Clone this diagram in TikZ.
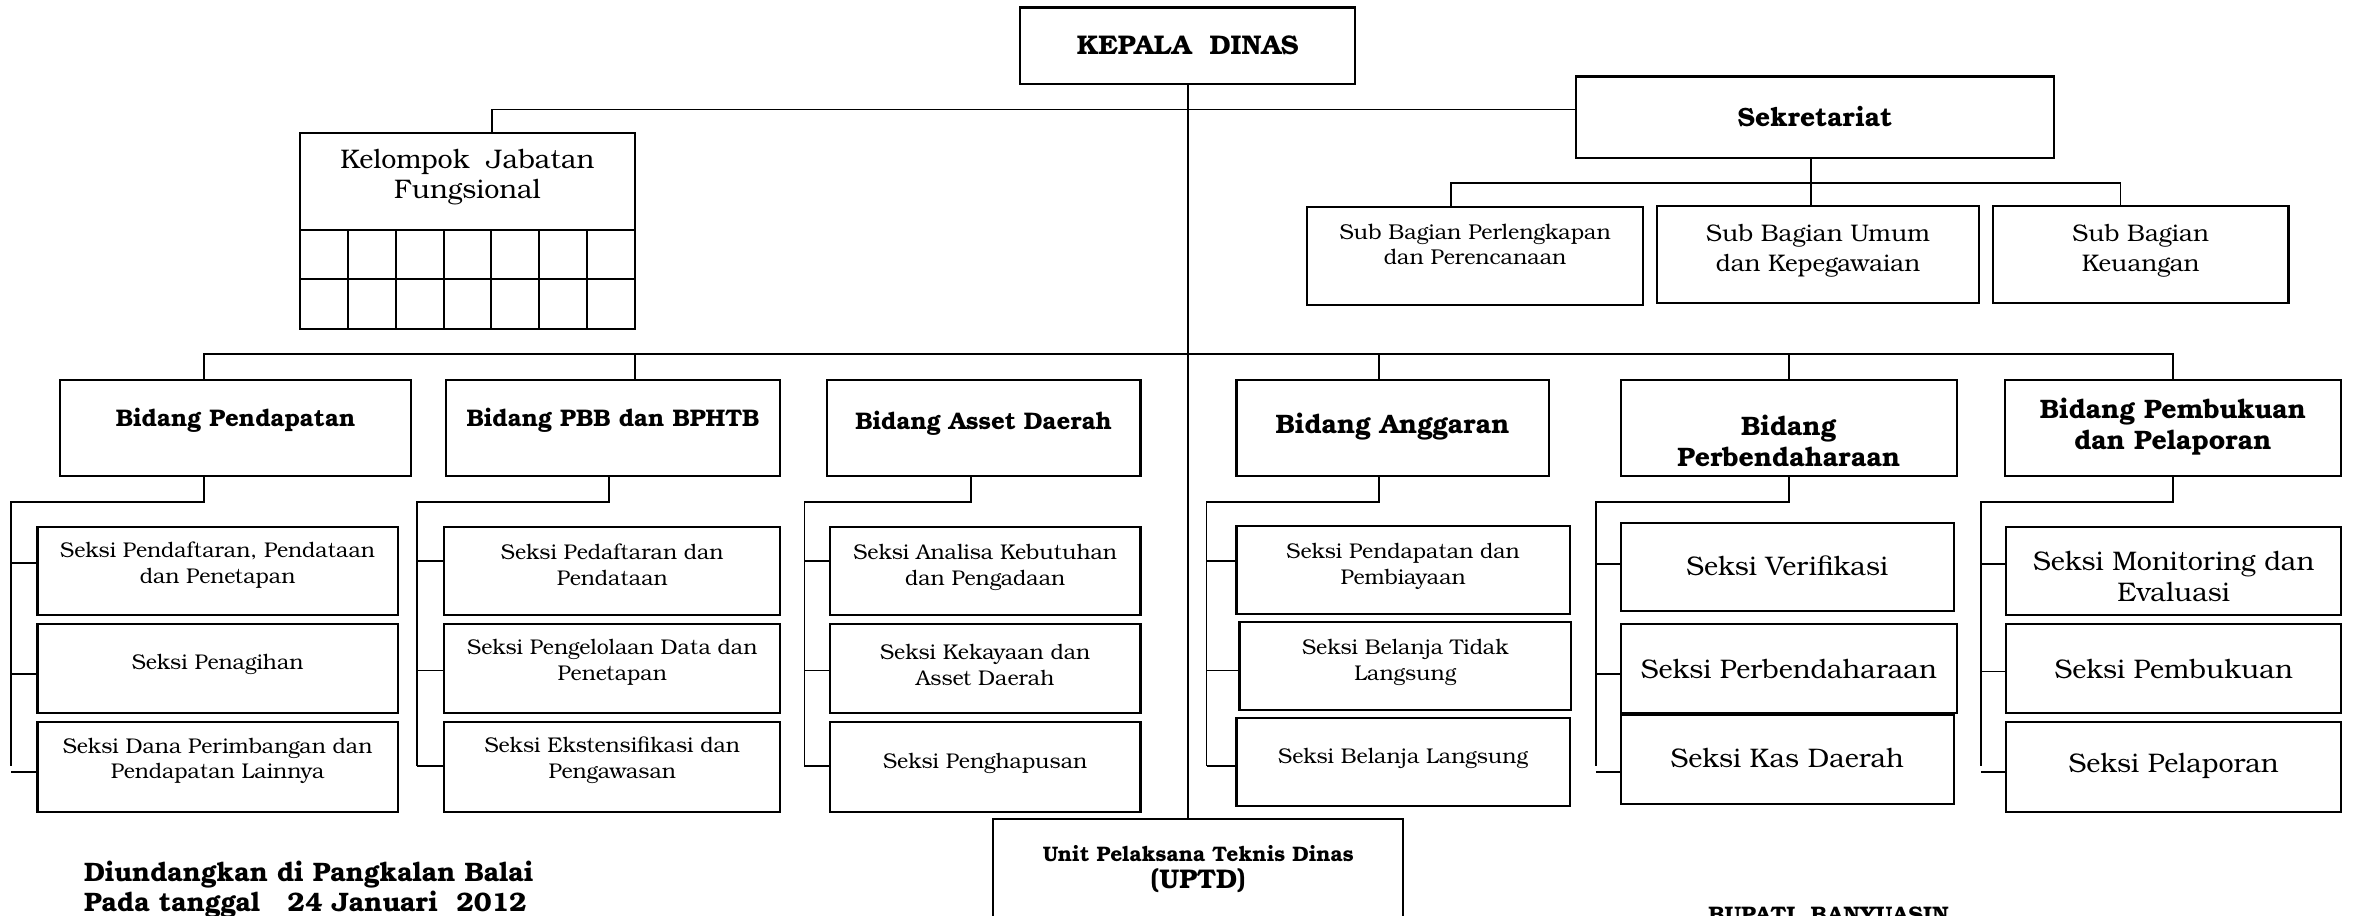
\documentclass[tikz,border=0pt]{standalone}
\usepackage{fontspec}
\setmainfont{texgyrebonum}[Extension=.otf, UprightFont=*-regular, BoldFont=*-bold, ItalicFont=*-italic, BoldItalicFont=*-bolditalic]
\newcommand{\fz}[2]{\fontsize{#1}{#2}\selectfont}
\tikzset{
  bx/.style={draw=black, line width=1.4pt, fill=none, inner sep=0pt, outer sep=0pt},
  tx/.style={inner sep=0pt, outer sep=0pt, align=center, text=black},
  ln/.style={draw=black, line width=1.1pt},
}
\newcommand{\BX}[5]{\node[bx, minimum width={(#4-#2)*1pt}, minimum height={(#5-#3)*1pt}] (#1) at ({(#2+#4)/2},{(#3+#5)/2}) {};}
\newcommand{\TX}[4]{\node[tx, font=#3] (#1) at (#2) {#4};}
\newcommand{\COLS}[9]{%
  \draw[ln] (#1.south -| #2,0) -- (#2,334.6) -- (#3,334.6) -- (#3,510.6);
  \draw[ln] (#3,#4) -- (#7.west |- 0,#4);
  \draw[ln] (#3,#5) -- (#8.west |- 0,#5);
  \draw[ln] (#3,#6) -- (#9.west |- 0,#6);
}
\newcommand{\fsm}{\fz{14.2}{17}}
\newcommand{\flg}{\fz{17.9}{20.5}}
\newcommand{\fbd}{\fz{16}{19}\bfseries}
\newcommand{\fbl}{\fz{17.8}{20.5}\bfseries}
\begin{document}
\begin{tikzpicture}[x=1pt,y=-1pt]
\useasboundingbox (0,0) rectangle (1568,610);
\fill[white] (0,0) rectangle (1568,610);

% top
\BX{kepala}{680}{5}{903}{56}
\TX{kepalat}{791.5,30}{\fz{18}{21}\bfseries}{KEPALA\ \ DINAS}

\BX{kjf}{200}{88.5}{423}{153}
\TX{kjft}{311.5,118}{\fz{17.9}{20}}{Kelompok\ \ Jabatan\\Fungsional}
\BX{grid}{200}{153}{423}{219}
\draw[bx] (grid.west) -- (grid.east);
\foreach \i in {1,...,6} \draw[bx] ({200+\i*223/7},153) -- ({200+\i*223/7},219);

\BX{sek}{1050}{51}{1369}{105}
\TX{sekt}{1209.5,78}{\fz{17.6}{20}\bfseries}{Sekretariat}

\BX{sbp}{871}{138}{1095}{203}
\TX{sbpt}{983,163}{\fz{14.3}{16.6}}{Sub Bagian Perlengkapan\\dan Perencanaan}
\BX{sbu}{1104}{137}{1319}{202}
\TX{sbut}{1211.5,167}{\fz{16}{19.7}}{Sub Bagian Umum\\dan Kepegawaian}
\BX{sbk}{1328}{137}{1525}{202}
\TX{sbkt}{1426.5,167}{\fz{16}{19.7}}{Sub Bagian\\Keuangan}

% bidang
\BX{bpend}{40}{253}{274}{317}
\TX{bpendt}{157,280}{\fbd}{Bidang Pendapatan}
\BX{bpbb}{297}{253}{520}{317}
\TX{bpbbt}{408.5,280}{\fbd}{Bidang PBB dan BPHTB}
\BX{basset}{551}{253}{760}{317}
\TX{bassett}{655.5,282}{\fbd}{Bidang Asset Daerah}
\BX{bang}{824}{253}{1032}{317}
\TX{bangt}{928,284}{\fbl}{Bidang Anggaran}
\BX{bperb}{1080}{253}{1304}{317}
\TX{bperbt}{1192,294}{\fbl}{Bidang\\Perbendaharaan}
\BX{bpemb}{1336}{253}{1560}{317}
\TX{bpembt}{1448,284.5}{\fbl}{Bidang Pembukuan\\dan Pelaporan}

% seksi col 1
\BX{s11}{25}{351}{265}{410}
\TX{s11t}{145,376.5}{\fsm}{Seksi Pendaftaran, Pendataan\\dan Penetapan}
\BX{s12}{25}{416}{265}{475}
\TX{s12t}{145,443}{\fsm}{Seksi Penagihan}
\BX{s13}{25}{481}{265}{541}
\TX{s13t}{145,507}{\fsm}{Seksi Dana Perimbangan dan\\Pendapatan Lainnya}
% col 2
\BX{s21}{296}{351}{520}{410}
\TX{s21t}{408,376.5}{\fsm}{Seksi Pedaftaran dan\\Pendataan}
\BX{s22}{296}{416}{520}{475}
\TX{s22t}{408,441.5}{\fsm}{Seksi Pengelolaan Data dan\\Penetapan}
\BX{s23}{296}{481}{520}{541}
\TX{s23t}{408,506.5}{\fsm}{Seksi Ekstensifikasi dan\\Pengawasan}
% col 3
\BX{s31}{553}{351}{760}{410}
\TX{s31t}{656.5,378}{\fsm}{Seksi Analisa Kebutuhan\\dan Pengadaan}
\BX{s32}{553}{416}{760}{475}
\TX{s32t}{656.5,443}{\fsm}{Seksi Kekayaan dan\\Asset Daerah}
\BX{s33}{553}{481}{760}{541}
\TX{s33t}{656.5,509}{\fsm}{Seksi Penghapusan}
% col 4
\BX{s41}{824}{350.5}{1046}{409}
\TX{s41t}{935,377.5}{\fsm}{Seksi Pendapatan dan\\Pembiayaan}
\BX{s42}{826}{414.5}{1047}{473}
\TX{s42t}{936.5,441.5}{\fsm}{Seksi Belanja Tidak\\Langsung}
\BX{s43}{824}{478.5}{1046}{537}
\TX{s43t}{935,505.5}{\fsm}{Seksi Belanja Langsung}
% col 5
\BX{s51}{1080}{348.5}{1302}{407}
\TX{s51t}{1191,377}{\flg}{Seksi Verifikasi}
\BX{s52}{1080}{416}{1304}{475}
\TX{s52t}{1192,446}{\flg}{Seksi Perbendaharaan}
\BX{s53}{1080}{476.7}{1302}{535.5}
\TX{s53t}{1191,505}{\flg}{Seksi Kas Daerah}
% col 6
\BX{s61}{1337}{351}{1560}{410}
\TX{s61t}{1448.5,384}{\flg}{Seksi Monitoring dan\\Evaluasi}
\BX{s62}{1337}{416}{1560}{475}
\TX{s62t}{1448.5,446}{\flg}{Seksi Pembukuan}
\BX{s63}{1337}{481}{1560}{541}
\TX{s63t}{1448.5,510.6}{\flg}{Seksi Pelaporan}

% UPTD
\BX{uptd}{662}{546}{935}{640}
\TX{uptdt1}{798.5,568.5}{\fz{14}{16}\bfseries}{Unit Pelaksana Teknis Dinas}
\TX{uptdt2}{798.5,587}{\fz{18}{20}\bfseries}{(UPTD)}

% footer
\node[tx, anchor=west, font=\fz{17.8}{20}\bfseries] (und1) at (56,582.5) {Diundangkan di Pangkalan Balai};
\node[tx, anchor=west, font=\fz{17.8}{20}\bfseries] (und2) at (56,603) {Pada tanggal\ \ \ 24 Januari\ \ 2012};
\node[tx, anchor=base, font=\fz{15}{18}\bfseries] (bupati) at (1218.5,615) {BUPATI\ \ BANYUASIN};

% connectors
\draw[ln] (kepala.south) -- (kepala.south |- uptd.north);
\draw[ln] (kjf.north -| 328,0) -- (328,73) -- (sek.west |- 0,73);
\draw[ln] (sek.south -| 1207,0) -- (sbu.north -| 1207,0);
\draw[ln] (sbp.north -| 967,0) -- (967,122) -- (1413,122) -- (sbk.north -| 1413,0);
\draw[ln] (bpend.north -| 136,0) -- (136,236) -- (1448,236) -- (bpemb.north -| 1448,0);
\draw[ln] (423,236) -- (bpbb.north -| 423,0);
\draw[ln] (919,236) -- (bang.north -| 919,0);
\draw[ln] (1192,236) -- (bperb.north -| 1192,0);

\COLS{bpend}{136}{7.5}{375}{449}{514.6}{s11}{s12}{s13}
\COLS{bpbb}{406}{278}{374}{446.7}{510.6}{s21}{s22}{s23}
\COLS{basset}{647}{536}{374}{446.7}{510.6}{s31}{s32}{s33}
\COLS{bang}{919}{804}{374}{446.7}{510.6}{s41}{s42}{s43}
\COLS{bperb}{1192}{1063.5}{376}{449}{514.6}{s51}{s52}{s53}
\COLS{bpemb}{1448}{1320}{376}{447.5}{514.6}{s61}{s62}{s63}
\end{tikzpicture}
\end{document}
